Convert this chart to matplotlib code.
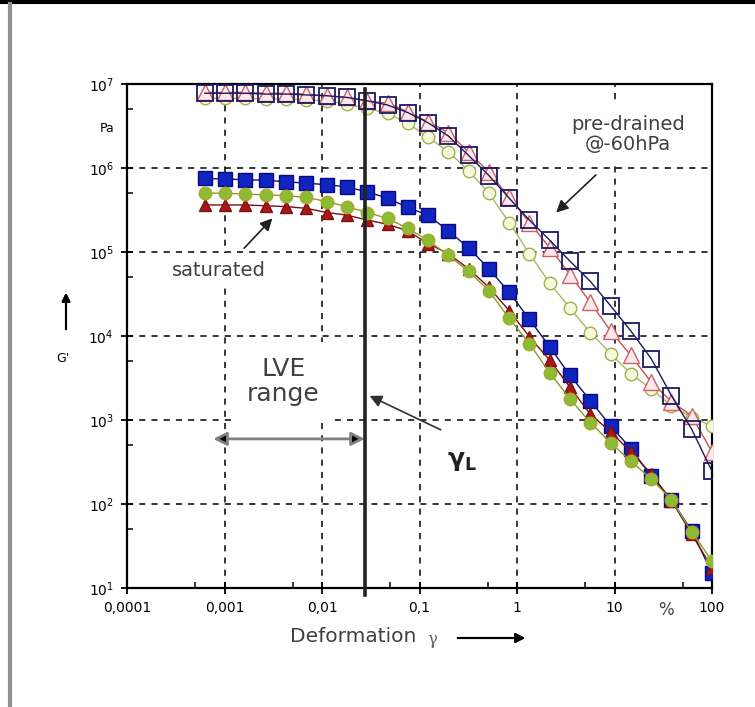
import matplotlib
matplotlib.use("Agg")
import matplotlib.pyplot as plt
from matplotlib.lines import Line2D

# strain amplitude in %
strain = [0.00063, 0.00102, 0.00164, 0.00265, 0.00429, 0.00692, 0.0112, 0.018,
          0.0291, 0.047, 0.0759, 0.122, 0.198, 0.319, 0.515, 0.832, 1.34, 2.17,
          3.5, 5.65, 9.12, 14.7, 23.8, 38.4, 61.9, 100]

# G' in Pa, saturated samples
sat_squares = [750e3, 741e3, 724e3, 716e3, 684e3, 661e3, 631e3, 596e3, 519e3, 437e3,
               339e3, 275e3, 178e3, 112e3, 63.1e3, 33.1e3, 15.8e3, 7410, 3390, 1700,
               851, 457, 214, 112, 47.9, 15.1]
sat_triangles = [363e3, 363e3, 363e3, 355e3, 347e3, 331e3, 295e3, 275e3, 240e3, 214e3,
                 178e3, 126e3, 95.5e3, 63.1e3, 38.0e3, 20.0e3, 9770, 5130, 2450, 1170,
                 724, 417, 229, 110, 43.7, 17.4]
sat_circles = [501e3, 501e3, 490e3, 479e3, 468e3, 447e3, 398e3, 347e3, 295e3, 251e3,
               191e3, 138e3, 91.2e3, 58.9e3, 34.7e3, 16.2e3, 8130, 3630, 1780, 933,
               537, 324, 200, 112, 46.8, 20.9]

# G' in Pa, pre-drained @-60hPa
pre_squares = [7.76e6, 7.76e6, 7.76e6, 7.59e6, 7.59e6, 7.41e6, 7.24e6, 6.92e6, 6.31e6,
               5.62e6, 4.57e6, 3.47e6, 2.40e6, 1.41e6, 813e3, 437e3, 240e3, 138e3,
               77.6e3, 44.7e3, 22.9e3, 11.5e3, 5370, 1950, 776, 245]
pre_triangles = [7.94e6, 7.94e6, 7.94e6, 7.76e6, 7.76e6, 7.59e6, 7.24e6, 6.92e6, 6.31e6,
                 5.89e6, 4.68e6, 3.55e6, 2.63e6, 1.55e6, 891e3, 447e3, 224e3, 112e3,
                 53.7e3, 25.1e3, 11.5e3, 5890, 2820, 1660, 1120, 417]
pre_circles = [6.76e6, 6.76e6, 6.76e6, 6.61e6, 6.61e6, 6.46e6, 6.31e6, 5.75e6, 5.13e6,
               4.47e6, 3.39e6, 2.34e6, 1.55e6, 933e3, 501e3, 224e3, 95.5e3, 42.7e3,
               21.4e3, 11.0e3, 6170, 3550, 2340, 1480, 1070, 851]

gamma_L = 0.0275

x_ticks = [1e-4, 1e-3, 1e-2, 1e-1, 1, 10, 100]
x_tick_labels = ["0,0001", "0,001", "0,01", "0,1", "1", "10", "100"]
y_ticks = [1e1, 1e2, 1e3, 1e4, 1e5, 1e6, 1e7]
y_tick_labels = [r"$10^{%d}$" % i for i in range(1, 8)]

W, H = 755, 707


def px(x, y):
    # figure pixel (from top-left) -> figure fraction
    return x / W, 1 - y / H


fig = plt.figure(figsize=(W / 100, H / 100), dpi=100)
ax = fig.add_axes([127 / W, 1 - 588 / H, 585 / W, 504 / H])
ax.set_xscale("log")
ax.set_yscale("log")
ax.set_xlim(1e-4, 100)
ax.set_ylim(10, 1e7)

ax.grid(True, which="major", color="k", lw=1.1, ls=(0, (4, 4)))
ax.set_axisbelow(True)
for s in ax.spines.values():
    s.set_linewidth(1.6)

ax.set_xticks(x_ticks, x_tick_labels)
ax.set_yticks(y_ticks, y_tick_labels)
ax.set_xticks([5 * t for t in x_ticks[:-1]], minor=True)
ax.set_yticks([5 * t for t in y_ticks[:-1]], minor=True)
ax.tick_params(which="major", direction="inout", length=9, width=1.3,
               labelsize=10, pad=5)
ax.tick_params(which="minor", direction="in", length=4, width=1.1,
               labelbottom=False, labelleft=False)

# saturated
ax.plot(strain, sat_squares, "-s", color="#101070", lw=1, ms=10,
        mfc="#1024c0", mec="#0a0a80", zorder=3)
ax.plot(strain, sat_triangles, "-^", color="#7a1010", lw=1, ms=9,
        mfc="#a81818", mec="#801010", zorder=4)
ax.plot(strain, sat_circles, "-o", color="#8a9a30", lw=1, ms=9,
        mfc="#8cbc34", mec="#a8a830", zorder=5)

# pre-drained
ax.plot(strain, pre_circles, "-o", color="#a8b860", lw=1, ms=9,
        mfc="#f6f8dc", mec="#a0b050", zorder=3)
ax.plot(strain, pre_triangles, "-^", color="#c85050", lw=1, ms=11,
        mfc="#fde8ec", mec="#d06068", zorder=4)
ax.plot(strain, pre_squares, "-s", color="#1a1a60", lw=1, ms=11,
        mfc="none", mec="#1a1a60", mew=1.3, zorder=5)

# limit of linear viscoelastic range
ax.plot([gamma_L, gamma_L], [8.2, 8.7e6], color="#222222", lw=2.6,
        clip_on=False, zorder=6)

box = dict(boxstyle="square,pad=0.4", fc="white", ec="none")
ax.text(8.7e-4, 6.0e4, "saturated", fontsize=14, color="#404040",
        ha="center", va="center", bbox=box, zorder=2)
ax.annotate("", xy=(3.24e-3, 2.66e5), xytext=(1.52e-3, 1.05e5),
            arrowprops=dict(arrowstyle="-|>", color="#202020", lw=1.2,
                            mutation_scale=18), zorder=7)

ax.text(13.7, 2.5e6, "pre-drained\n@-60hPa", fontsize=14, color="#404040",
        ha="center", va="center", linespacing=1.1,
        bbox=dict(boxstyle="square,pad=0.5", fc="white", ec="none"), zorder=2)
ax.annotate("", xy=(2.4, 2.8e5), xytext=(6.75, 8.7e5),
            arrowprops=dict(arrowstyle="-|>", color="#202020", lw=1.2,
                            mutation_scale=18), zorder=7)

ax.text(4.0e-3, 2.9e3, "LVE\nrange", fontsize=18, color="#404040",
        ha="center", va="center", linespacing=1.05,
        bbox=dict(boxstyle="square,pad=0.6", fc="white", ec="none"), zorder=2)
ax.annotate("", xy=(7.66e-4, 596), xytext=(gamma_L, 596),
            arrowprops=dict(arrowstyle="<|-|>", ec="#808080", fc="black",
                            lw=2, mutation_scale=20, shrinkA=0, shrinkB=0),
            zorder=7)

ax.text(0.27, 325, r"$\mathbf{\gamma_L}$", fontsize=18, color="#202020",
        ha="center", va="center", zorder=7)
ax.annotate("", xy=(0.029, 2000), xytext=(0.175, 740),
            arrowprops=dict(arrowstyle="-|>", color="#303030", lw=1.2,
                            mutation_scale=18), zorder=7)

# axis captions
fig.text(*px(107, 128), "Pa", fontsize=9, ha="center", va="center")
fig.text(*px(63, 358), "G'", fontsize=9, ha="center", va="center")
fig.add_artist(plt.annotate("", xy=px(66, 290), xytext=px(66, 332),
                            xycoords="figure fraction",
                            textcoords="figure fraction",
                            arrowprops=dict(arrowstyle="-|>", color="k",
                                            lw=1.5, mutation_scale=12)))
fig.text(*px(666, 610), "%", fontsize=12, color="#404040", ha="center", va="center")
fig.text(*px(290, 637), "Deformation", fontsize=14.5, color="#404040",
         ha="left", va="center")
fig.text(*px(432, 640), "\u03b3", fontsize=12, color="#606060",
         family="DejaVu Serif", ha="center", va="center")
fig.add_artist(plt.annotate("", xy=px(528, 638), xytext=px(455, 638),
                            xycoords="figure fraction",
                            textcoords="figure fraction",
                            arrowprops=dict(arrowstyle="-|>", color="k",
                                            lw=1.5, mutation_scale=14)))

# screenshot frame
fig.add_artist(Line2D([0, 1], [1 - 2 / H, 1 - 2 / H], color="k", lw=3,
                      transform=fig.transFigure))
fig.add_artist(Line2D([10 / W, 10 / W], [0, 1 - 4 / H], color="#909090",
                      lw=3, transform=fig.transFigure))

fig.savefig("out.png", dpi=100)
